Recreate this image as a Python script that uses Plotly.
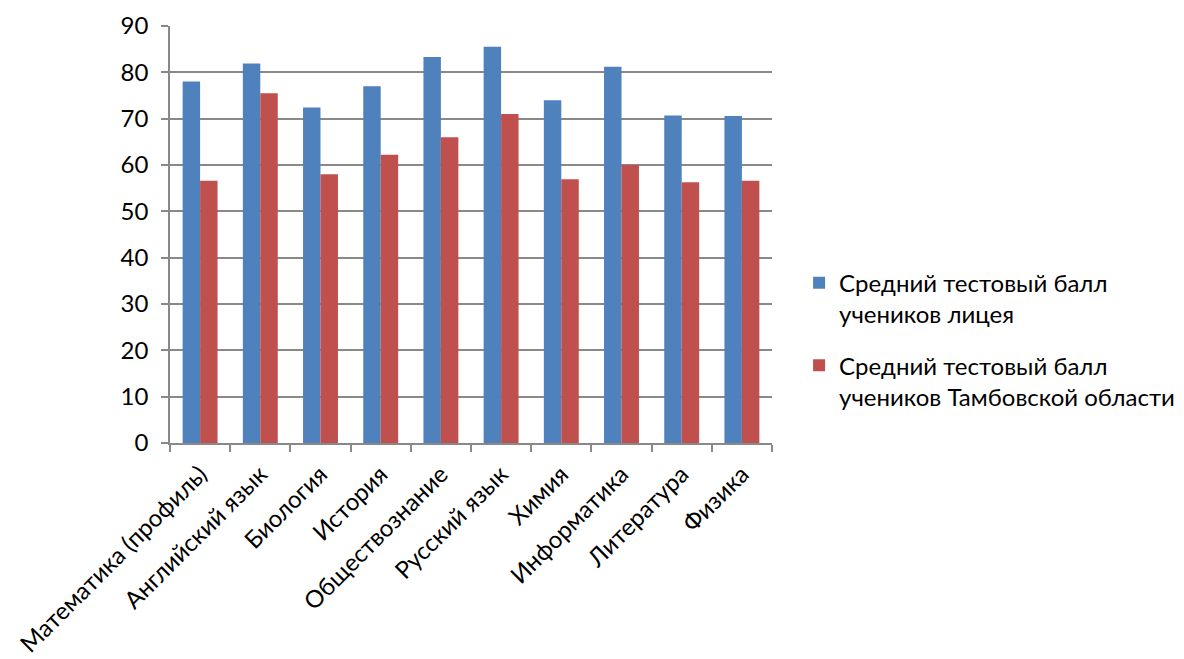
import plotly.graph_objects as go

categories = ["Математика (профиль)", "Английский язык", "Биология", "История",
              "Обществознание", "Русский язык", "Химия", "Информатика",
              "Литература", "Физика"]
lyceum = [78.0, 81.9, 72.4, 77.0, 83.3, 85.5, 74.0, 81.2, 70.7, 70.6]
region = [56.6, 75.5, 58.0, 62.2, 66.0, 71.0, 56.9, 60.0, 56.3, 56.6]
series_names = ["Средний тестовый балл<br>учеников лицея",
                "Средний тестовый балл<br>учеников Тамбовской области"]
y_ticks = [0, 10, 20, 30, 40, 50, 60, 70, 80, 90]

FONT = "Lato"
GRID = "#898989"
FS = 24

fig = go.Figure()
fig.add_trace(go.Bar(x=categories, y=lyceum, name=series_names[0],
                     legendgroup="g1",
                     marker=dict(color="#4F81BD", line=dict(width=0))))
fig.add_trace(go.Bar(x=categories, y=region, name=series_names[1],
                     legendgroup="g2",
                     marker=dict(color="#C0504D", line=dict(width=0))))

fig.update_layout(
    width=1184, height=659,
    margin=dict(l=162, r=420, t=18, b=224, pad=0, autoexpand=False),
    paper_bgcolor="white", plot_bgcolor="white",
    barmode="group", bargap=0.42, bargroupgap=0,
    font=dict(family=FONT, size=FS, color="black"),
    legend=dict(x=1.045, y=0.437, xanchor="left", yanchor="top",
                font=dict(family=FONT, size=FS, color="black"),
                valign="top", tracegroupgap=17, itemwidth=30,
                bgcolor="rgba(0,0,0,0)"),
    xaxis=dict(tickangle=-45, showline=True, linecolor=GRID, linewidth=1.5,
               ticks="outside", ticklen=7, tickcolor=GRID, tickwidth=1.5,
               tickson="boundaries", showgrid=False, automargin=False,
               ticklabelstandoff=6,
               tickfont=dict(family=FONT, size=FS, color="black")),
    yaxis=dict(range=[0, 90], tickvals=y_ticks, showline=True, linecolor=GRID,
               linewidth=1.5, ticks="outside", ticklen=7, tickcolor=GRID,
               tickwidth=1.5, showgrid=True, gridcolor=GRID, gridwidth=1.5,
               zeroline=False, ticklabelstandoff=8, automargin=False,
               tickfont=dict(family=FONT, size=FS, color="black")),
)

fig.write_html("out.html")
